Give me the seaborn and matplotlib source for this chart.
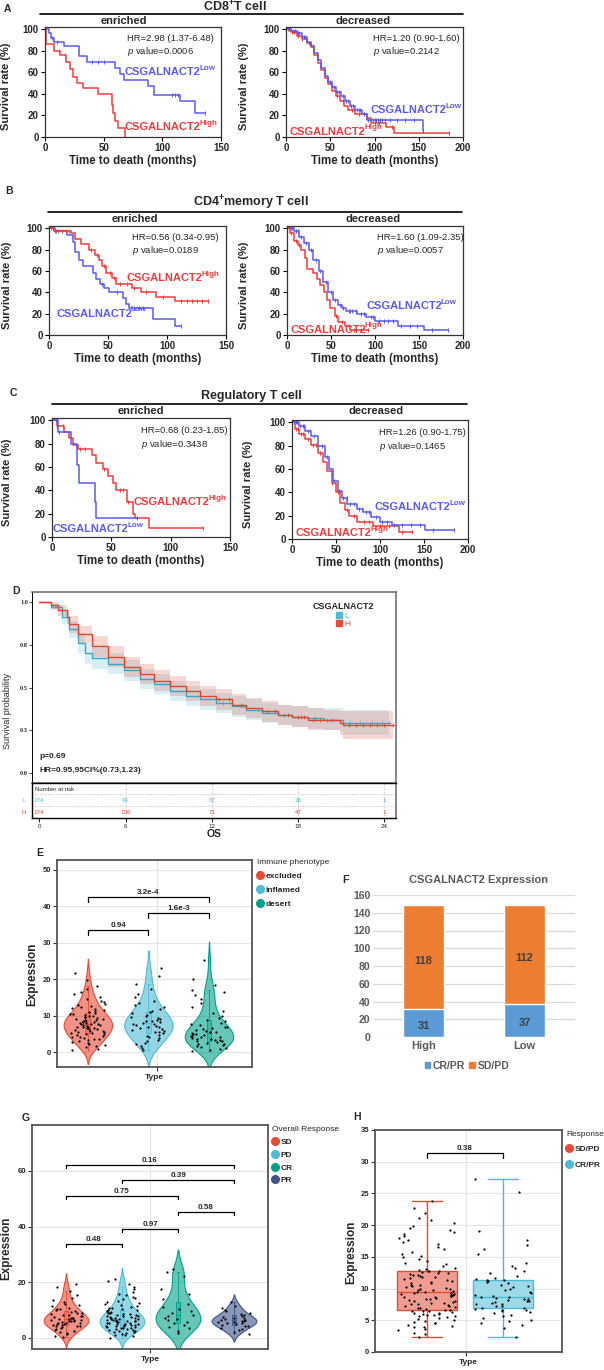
import numpy as np
import pandas as pd
import matplotlib
matplotlib.use("Agg")
import matplotlib.pyplot as plt
from matplotlib import font_manager
from matplotlib.colors import to_rgb, to_rgba
from matplotlib.lines import Line2D
from matplotlib.patches import Patch
import seaborn as sns

# ---------------- data ----------------
# A-C  Kaplan-Meier step points (months, survival %), end of follow-up, censor times
a_enr_low_t = [0, 3, 5, 8, 16, 29, 36, 60, 64, 67, 88, 93, 115, 128]
a_enr_low_s = [100, 96, 92, 88, 84, 75, 70, 64, 58, 53, 47, 39, 33, 22]
a_enr_low_c = [6, 10, 40, 45, 50, 108, 111, 113, 136]
a_enr_high_t = [0, 1, 8, 13, 18, 21, 24, 27, 32, 45, 57, 58, 60, 62, 68]
a_enr_high_s = [100, 86, 80, 76, 70, 63, 56, 50, 45, 40, 30, 22, 15, 8, 0]
a_enr_high_c = [12, 17]
a_dec_low_t = [0, 6, 12, 18, 24, 28, 32, 36, 40, 44, 48, 52, 57, 62, 67, 72, 78, 86, 91, 155]
a_dec_low_s = [100, 98, 96, 93, 88, 84, 78, 71, 64, 57, 51, 46, 42, 38, 33, 29, 25, 21, 16, 6]
a_dec_low_c = [3, 5, 8, 10, 13, 15, 20, 22, 30, 50, 54, 58, 60, 64, 68, 70, 74, 76, 80, 82, 84,
               88, 93, 96, 98, 100, 102, 104, 106, 108, 112, 118, 125, 135, 145, 155]
a_dec_high_t = [0, 6, 12, 18, 24, 28, 32, 36, 40, 44, 48, 52, 56, 61, 66, 70, 78, 91, 96, 113, 122]
a_dec_high_s = [100, 97, 94, 91, 87, 83, 76, 69, 62, 55, 49, 43, 38, 33, 29, 25, 21, 18, 13, 9, 4]
a_dec_high_c = [2, 4, 7, 9, 14, 18, 26, 58, 64, 75, 82, 88, 100, 105, 120, 184]

b_enr_high_t = [0, 4, 19, 22, 27, 34, 39, 42, 45, 48, 53, 57, 70, 78, 91, 107]
b_enr_high_s = [100, 97, 95, 90, 85, 80, 75, 70, 65, 58, 53, 48, 44, 40, 36, 32]
b_enr_high_c = [2, 5, 8, 11, 14, 17, 36, 41, 47, 52, 55, 60, 66, 72, 82, 97, 112, 117, 121, 125, 130, 135]
b_enr_low_t = [0, 5, 15, 20, 22, 25, 29, 37, 40, 43, 47, 51, 63, 65, 68, 88, 107]
b_enr_low_s = [100, 97, 94, 87, 78, 70, 65, 58, 52, 48, 44, 40, 35, 29, 25, 15, 8]
b_enr_low_c = [3, 6, 45, 58, 72, 76, 80, 112]
b_dec_high_t = [0, 3, 8, 12, 16, 20, 23, 30, 34, 38, 42, 45, 49, 54, 58, 66, 72]
b_dec_high_s = [100, 95, 88, 84, 80, 72, 62, 58, 52, 47, 40, 33, 25, 18, 12, 8, 5]
b_dec_high_c = [4, 10, 14, 56, 62, 70, 76, 84, 92]
b_dec_low_t = [0, 8, 14, 19, 25, 30, 36, 41, 47, 52, 58, 63, 67, 80, 90, 100, 126, 156]
b_dec_low_s = [100, 97, 92, 86, 80, 70, 60, 50, 40, 33, 28, 25, 22, 20, 17, 13, 8, 5]
b_dec_low_c = [2, 4, 6, 10, 12, 16, 22, 27, 33, 38, 44, 50, 55, 60, 64, 70, 72, 74, 78, 84, 88,
               95, 98, 104, 110, 115, 120, 130, 140, 148, 165, 183]

c_enr_low_t = [0, 5, 16, 21, 23, 36, 37]
c_enr_low_s = [100, 90, 80, 62, 46, 30, 16]
c_enr_low_c = [3, 6, 72]
c_enr_high_t = [0, 4, 10, 14, 18, 22, 34, 37, 43, 47, 51, 54, 63, 68, 70, 82]
c_enr_high_s = [100, 95, 90, 85, 79, 75, 70, 63, 58, 52, 46, 40, 30, 20, 16, 8]
c_enr_high_c = [4, 9, 20, 24, 28, 44, 57, 60, 64, 127]
c_dec_low_t = [0, 8, 15, 22, 30, 37, 42, 47, 52, 57, 63, 74, 81, 90, 100, 114, 151]
c_dec_low_s = [100, 97, 93, 88, 80, 70, 60, 50, 41, 35, 30, 26, 23, 19, 15, 12, 8]
c_dec_low_c = [2, 4, 6, 9, 12, 14, 18, 20, 25, 34, 40, 48, 53, 58, 62, 66, 70, 76, 80, 84, 88,
               95, 102, 108, 116, 125, 135, 145, 160, 184]
c_dec_high_t = [0, 3, 8, 15, 22, 30, 35, 40, 45, 50, 55, 60, 65, 74, 92, 122]
c_dec_high_s = [100, 94, 90, 86, 81, 74, 66, 58, 48, 40, 31, 25, 20, 15, 11, 6]
c_dec_high_c = [2, 5, 7, 10, 13, 18, 24, 27, 32, 46, 52, 62, 70, 82, 88, 100, 110, 125, 136]

hr_texts = {
    "A_enr": ("HR=2.98 (1.37-6.48)", "0.0006"), "A_dec": ("HR=1.20 (0.90-1.60)", "0.2142"),
    "B_enr": ("HR=0.56 (0.34-0.95)", "0.0189"), "B_dec": ("HR=1.60 (1.09-2.35)", "0.0057"),
    "C_enr": ("HR=0.68 (0.23-1.85)", "0.3438"), "C_dec": ("HR=1.26 (0.90-1.75)", "0.1465"),
}

# D  overall survival (months, probability) with 95% CI
d_low_t = [0, 0.8, 1.6, 2.1, 2.7, 3.2, 3.7, 4.8, 5.9, 7.0, 8.0, 9.1, 10.2, 11.2, 12.3, 13.4,
           14.4, 15.5, 16.6, 17.6, 18.7, 19.8, 20.9, 21.1]
d_low_s = [1.0, 0.97, 0.91, 0.84, 0.76, 0.70, 0.67, 0.64, 0.60, 0.55, 0.52, 0.48, 0.45, 0.43,
           0.41, 0.39, 0.37, 0.35, 0.34, 0.33, 0.32, 0.31, 0.31, 0.29]
d_low_lo = [1.0, 0.95, 0.87, 0.79, 0.70, 0.64, 0.61, 0.58, 0.54, 0.49, 0.46, 0.42, 0.39, 0.37,
            0.35, 0.33, 0.31, 0.29, 0.28, 0.27, 0.26, 0.25, 0.24, 0.22]
d_low_hi = [1.0, 0.99, 0.95, 0.89, 0.82, 0.76, 0.73, 0.70, 0.66, 0.61, 0.58, 0.54, 0.51, 0.49,
            0.47, 0.45, 0.43, 0.41, 0.40, 0.39, 0.38, 0.38, 0.38, 0.37]
d_low_c = [12.8, 14.2, 15.2, 17.0, 18.2, 19.2, 20.0, 20.5, 21.6, 22.3, 23.1, 23.8, 24.3]
d_high_t = [0, 0.8, 1.3, 1.9, 2.1, 2.7, 3.7, 4.8, 5.9, 7.0, 8.0, 9.1, 10.2, 11.2, 12.3, 13.4,
            14.4, 15.5, 16.6, 17.6, 18.7, 19.8, 20.9, 21.1]
d_high_s = [1.0, 0.98, 0.95, 0.91, 0.87, 0.81, 0.74, 0.68, 0.62, 0.58, 0.54, 0.51, 0.48, 0.45,
            0.43, 0.40, 0.38, 0.36, 0.34, 0.33, 0.31, 0.31, 0.29, 0.28]
d_high_lo = [1.0, 0.96, 0.92, 0.87, 0.82, 0.76, 0.68, 0.62, 0.56, 0.52, 0.48, 0.45, 0.42, 0.39,
             0.37, 0.34, 0.32, 0.30, 0.28, 0.27, 0.25, 0.25, 0.22, 0.20]
d_high_hi = [1.0, 1.0, 0.98, 0.95, 0.92, 0.86, 0.80, 0.74, 0.68, 0.64, 0.60, 0.57, 0.54, 0.51,
             0.49, 0.46, 0.44, 0.42, 0.40, 0.39, 0.38, 0.37, 0.36, 0.36]
d_high_c = [12.5, 13.2, 14.0, 15.8, 16.4, 17.3, 18.0, 18.4, 19.0, 19.5, 20.3, 21.5, 22.0,
            22.5, 23.0, 23.5, 24.0, 24.6]
risk_times = [0, 6, 12, 18, 24]
risk_low = [174, 99, 67, 38, 1]
risk_high = [174, 106, 71, 47, 1]

# E  expression by immune phenotype
e_groups = ["excluded", "inflamed", "desert"]
e_excluded = [0.5, 0.9, 1.3, 1.6, 2.0, 2.3, 2.5, 2.8, 3.0, 3.2, 3.5, 3.6, 3.9, 4.1, 4.2, 4.5,
              4.6, 4.9, 5.0, 5.2, 5.3, 5.5, 5.6, 5.8, 5.9, 6.1, 6.2, 6.4, 6.5, 6.6, 6.8, 6.9,
              7.0, 7.2, 7.3, 7.4, 7.6, 7.7, 7.8, 8.0, 8.1, 8.2, 8.3, 8.5, 8.6, 8.7, 8.9, 9.0,
              9.2, 9.3, 9.5, 9.6, 9.8, 10.0, 10.2, 10.4, 10.5, 10.7, 11.0, 11.2, 11.5, 11.7,
              12.0, 12.3, 12.6, 12.9, 13.3, 13.7, 14.1, 14.6, 15.2, 15.8, 16.5, 17.2, 18.0,
              19.8, 21.8]
e_inflamed = [0.6, 1.1, 1.6, 2.1, 2.6, 3.0, 3.4, 3.8, 4.2, 4.5, 4.8, 5.1, 5.4, 5.6, 5.9, 6.1,
              6.4, 6.6, 6.8, 7.0, 7.2, 7.4, 7.6, 7.8, 8.0, 8.2, 8.4, 8.6, 8.9, 9.1, 9.4, 9.7,
              10.0, 10.3, 10.7, 11.0, 11.4, 11.8, 12.3, 12.8, 13.4, 14.1, 15.0, 16.0, 17.2,
              18.8, 20.8, 23.2]
e_desert = [0.3, 0.6, 0.9, 1.2, 1.4, 1.7, 1.9, 2.1, 2.3, 2.5, 2.7, 2.9, 3.0, 3.2, 3.4, 3.5,
            3.7, 3.9, 4.0, 4.2, 4.4, 4.5, 4.7, 4.9, 5.0, 5.2, 5.4, 5.6, 5.8, 6.0, 6.2, 6.5,
            6.8, 7.0, 7.3, 7.6, 8.0, 8.4, 8.8, 9.3, 9.9, 10.6, 11.4, 12.3, 13.4, 14.6, 15.7,
            16.4, 16.9, 18.3, 20.1, 25.3]
e_tests = [(0, 1, "0.94"), (1, 2, "1.6e-3"), (0, 2, "3.2e-4")]

# F  response counts by expression group
f_groups = ["High", "Low"]
f_crpr = [31, 37]
f_sdpd = [118, 112]

# G  expression by overall response
g_groups = ["SD", "PD", "CR", "PR"]
g_sd = [0.2, 0.8, 1.3, 1.8, 2.2, 2.6, 3.0, 3.3, 3.6, 3.9, 4.1, 4.3, 4.4, 4.6, 4.8, 4.9, 5.1,
        5.3, 5.4, 5.5, 5.7, 5.9, 6.0, 6.1, 6.3, 6.5, 6.6, 6.7, 6.9, 7.1, 7.2, 7.3, 7.5, 7.7,
        7.9, 8.1, 8.3, 8.5, 8.8, 9.0, 9.3, 9.6, 9.9, 10.2, 10.5, 10.9, 11.3, 11.7, 12.2,
        12.8, 13.5, 14.3, 15.4, 16.8, 18.2, 19.4]
g_pd = [0.1, 0.5, 0.9, 1.2, 1.5, 1.8, 2.0, 2.2, 2.4, 2.6, 2.8, 3.0, 3.1, 3.3, 3.4, 3.6, 3.7,
        3.9, 4.0, 4.1, 4.3, 4.4, 4.5, 4.7, 4.8, 4.9, 5.0, 5.1, 5.3, 5.4, 5.5, 5.6, 5.7, 5.9,
        6.0, 6.1, 6.2, 6.3, 6.4, 6.6, 6.7, 6.8, 6.9, 7.0, 7.1, 7.3, 7.4, 7.5, 7.7, 7.8, 8.0,
        8.1, 8.3, 8.4, 8.6, 8.8, 9.0, 9.1, 9.3, 9.5, 9.7, 9.9, 10.1, 10.4, 10.6, 10.9, 11.2,
        11.5, 11.8, 12.1, 12.5, 12.9, 13.3, 13.8, 14.2, 14.7, 15.3, 15.9, 16.6, 17.4, 18.3,
        19.5, 20.6, 21.2]
g_cr = [1.8, 2.5, 3.4, 4.0, 4.6, 5.2, 5.8, 6.3, 6.8, 7.2, 7.7, 8.3, 8.9, 9.6, 10.3, 11.0,
        12.2, 13.8, 15.6, 17.5, 22.3, 23.5, 24.6]
g_pr = [1.5, 2.2, 2.8, 3.3, 3.7, 4.1, 4.4, 4.7, 5.0, 5.2, 5.4, 5.6, 5.8, 6.0, 6.2, 6.4, 6.6,
        6.8, 7.0, 7.3, 7.6, 7.9, 8.2, 8.6, 9.0, 9.5, 10.1, 10.8, 11.6, 12.8]
g_tests = [(0, 1, "0.48"), (1, 2, "0.97"), (2, 3, "0.58"), (0, 2, "0.75"), (1, 3, "0.39"), (0, 3, "0.16")]

# H  expression by response
h_groups = ["SD/PD", "CR/PR"]
h_sdpd = [2.3, 2.8, 3.0, 3.4, 3.7, 3.9, 4.0, 4.1, 4.3, 4.5, 4.6, 4.8, 4.9, 5.0, 5.2, 5.3, 5.5,
          5.6, 5.7, 5.8, 5.9, 6.0, 6.0, 6.1, 6.2, 6.3, 6.4, 6.5, 6.5, 6.6,
          6.7, 6.8, 6.9, 7.0, 7.1, 7.2, 7.3, 7.4, 7.5, 7.6, 7.7, 7.8, 7.9, 8.0, 8.1, 8.2, 8.3,
          8.4, 8.5, 8.6, 8.7, 8.8, 8.9, 9.0, 9.0, 9.1, 9.2, 9.3, 9.3, 9.4,
          9.5, 9.6, 9.7, 9.8, 9.9, 10.0, 10.1, 10.2, 10.4, 10.5, 10.6, 10.8, 10.9, 11.0, 11.2,
          11.3, 11.5, 11.6, 11.8, 11.9, 12.0, 12.1, 12.2, 12.3, 12.4, 12.5, 12.6, 12.7, 12.8, 12.8,
          12.9, 13.1, 13.3, 13.5, 13.8, 14.0, 14.3, 14.6, 14.9, 15.2, 15.5, 15.8, 16.2, 16.6,
          17.0, 17.3, 17.6, 18.0, 18.3, 18.6, 18.9, 19.2, 19.6, 19.9, 20.3, 20.8, 21.1, 21.9,
          22.7, 23.8]
h_crpr = [2.3, 3.8, 4.2, 4.6, 4.9, 5.1, 5.4, 5.6, 5.9, 6.1, 6.3, 6.5, 6.6, 6.7, 6.8,
          6.9, 7.0, 7.2, 7.3, 7.5, 7.6, 7.8, 7.9, 8.0, 8.1, 8.2, 8.3, 8.4, 8.5, 8.6,
          8.7, 8.8, 9.0, 9.3, 9.5, 9.7, 10.0, 10.2, 10.4, 10.6, 10.8, 11.0, 11.2, 11.3, 11.4,
          11.5, 11.7, 12.0, 12.4, 12.8, 13.2, 13.6, 14.0, 15.5, 16.3, 16.9, 17.6, 19.0, 25.2, 27.3]
h_tests = [(0, 1, "0.38")]

# ---------------- style ----------------
W, H = 604, 1370
sns.set_theme(style="white")
names = {f.name for f in font_manager.fontManager.ttflist}
SANS = "Liberation Sans" if "Liberation Sans" in names else "DejaVu Sans"
NARROW = "Liberation Sans Narrow" if "Liberation Sans Narrow" in names else SANS
SERIF = "Liberation Serif" if "Liberation Serif" in names else "DejaVu Serif"
plt.rcParams["font.family"] = [SANS, "DejaVu Sans"]
plt.rcParams.update({"mathtext.fontset": "custom", "mathtext.rm": SANS,
                     "mathtext.it": SANS + ":italic", "mathtext.bf": SANS + ":bold"})

KM_RED, KM_BLUE = "#F03B3B", "#5A5AEE"
NPG = {"red": "#E64B35", "blue": "#4DBBD5", "green": "#00A087", "navy": "#3C5488"}
XL_BLUE, XL_ORANGE = "#5B9BD5", "#ED7D31"

fig = plt.figure(figsize=(W / 100, H / 100), dpi=100)


def px_axes(l, t, r, b):
    return fig.add_axes([l / W, 1 - b / H, (r - l) / W, (b - t) / H])


def ftext(x, y, s, **kw):
    kw.setdefault("va", "center")
    return fig.text(x / W, 1 - y / H, s, **kw)


def fline(x0, x1, y, **kw):
    fig.add_artist(Line2D([x0 / W, x1 / W], [1 - y / H] * 2, transform=fig.transFigure, **kw))


def blend(c, a):
    r = np.array(to_rgb(c))
    return tuple(a * r + (1 - a))


def gene_label(ax, xy, sup, color):
    t = ax.text(*xy, "CSGALNACT2", color=color, fontsize=8, fontweight="bold", va="center")
    ax.annotate(sup, xy=(0.985, 0.88), xycoords=t, color=color, fontsize=5.8,
                fontweight="bold", ha="left", va="center")


def km_panel(box, curves, xmax, key, hr_x, low_xy, high_xy, ylab_x):
    ax = px_axes(*box)
    for t, s, end, cens, color in curves:
        tt = np.append(t, end)
        ss = np.append(s, s[-1])
        sns.lineplot(x=tt, y=ss, drawstyle="steps-post", color=color, lw=1.1,
                     estimator=None, ax=ax)
        idx = np.searchsorted(t, cens, side="right") - 1
        ax.plot(cens, np.asarray(s)[idx], ls="none", marker="|", ms=3.5, mew=0.7, color=color)
    ax.set_xlim(0, xmax)
    ax.set_ylim(0, 102)
    ax.set_xticks(np.arange(0, xmax + 1, 50))
    ax.set_yticks(np.arange(0, 101, 20))
    ax.tick_params(direction="out", length=3, width=0.8, pad=1.5, labelsize=7,
                   left=True, bottom=True, color="black")
    for lab in ax.get_xticklabels() + ax.get_yticklabels():
        lab.set_fontweight("bold")
    for sp in ax.spines.values():
        sp.set_color("#333333")
        sp.set_linewidth(0.9)
    ax.set_xlabel("Time to death (months)", fontsize=8.3, fontweight="bold", labelpad=1.5)
    ax.set_ylabel("Survival rate (%)", fontsize=8, fontweight="bold")
    ax.yaxis.set_label_coords((ylab_x - box[0]) / (box[2] - box[0]), 0.46)
    hr, pv = hr_texts[key]
    ax.text(hr_x, 91, hr, fontsize=6.8, family=NARROW, va="center")
    ax.text(hr_x, 79, r"$\mathit{p}$ value=" + pv, fontsize=6.8, family=NARROW, va="center")
    gene_label(ax, low_xy, "Low", KM_BLUE)
    gene_label(ax, high_xy, "High", KM_RED)
    return ax


def panel_head(letter, lxy, title, tx, ty, x0, x1, ly, enr_x, dec_x, ey):
    ftext(*lxy, letter, fontsize=7.5, fontweight="bold")
    ftext(tx, ty, title, fontsize=9, fontweight="bold", ha="center")
    fline(x0, x1, ly, color="black", lw=1.2)
    ftext(enr_x, ey, "enriched", fontsize=8, fontweight="bold", ha="center")
    ftext(dec_x, ey, "decreased", fontsize=8, fontweight="bold", ha="center")


# ---------------- A ----------------
panel_head("A", (4, 9), r"CD8$^{\mathbf{+}}$T cell", 235, 7, 40, 463, 13.5, 124, 363, 20.5)
km_panel((45, 27, 221, 137),
         [(a_enr_low_t, a_enr_low_s, 136, a_enr_low_c, KM_BLUE),
          (a_enr_high_t, a_enr_high_s, 68, a_enr_high_c, KM_RED)],
         150, "A_enr", 70, (68, 60), (68, 9), 11)
km_panel((286, 27, 463, 137),
         [(a_dec_high_t, a_dec_high_s, 184, a_dec_high_c, KM_RED),
          (a_dec_low_t, a_dec_low_s, 155, a_dec_low_c, KM_BLUE)],
         200, "A_dec", 98, (96, 25), (4, 5), 249)

# ---------------- B ----------------
panel_head("B", (5, 191), r"CD4$^{\mathbf{+}}$memory T cell", 251, 203, 48, 462, 211.5, 135, 373, 219)
km_panel((49, 226, 226, 335),
         [(b_enr_low_t, b_enr_low_s, 112, b_enr_low_c, KM_BLUE),
          (b_enr_high_t, b_enr_high_s, 135, b_enr_high_c, KM_RED)],
         150, "B_enr", 70, (6, 20), (66, 53), 12)
km_panel((287, 226, 463, 335),
         [(b_dec_low_t, b_dec_low_s, 183, b_dec_low_c, KM_BLUE),
          (b_dec_high_t, b_dec_high_s, 92, b_dec_high_c, KM_RED)],
         200, "B_dec", 102, (90, 27), (3.5, 5), 249)

# ---------------- C ----------------
panel_head("C", (10, 393), "Regulatory T cell", 251, 396, 52, 467, 404, 141, 376, 411.5)
km_panel((52, 418, 230, 537),
         [(c_enr_high_t, c_enr_high_s, 127, c_enr_high_c, KM_RED),
          (c_enr_low_t, c_enr_low_s, 72, c_enr_low_c, KM_BLUE)],
         150, "C_enr", 75, (0.7, 7), (68.5, 30), 12)
km_panel((292, 420, 468, 539),
         [(c_dec_high_t, c_dec_high_s, 136, c_dec_high_c, KM_RED),
          (c_dec_low_t, c_dec_low_s, 184, c_dec_low_c, KM_BLUE)],
         200, "C_dec", 98.5, (94, 27), (4.4, 5), 253)

# ---------------- D ----------------
ftext(12, 591, "D", fontsize=7.5, fontweight="bold")
axD = px_axes(32, 592, 396, 783)
d_curves = [(d_low_t, d_low_s, d_low_lo, d_low_hi, d_low_c, 24.3, NPG["blue"], "#3AA6C6"),
            (d_high_t, d_high_s, d_high_lo, d_high_hi, d_high_c, 24.6, NPG["red"], "#E0442C")]
for t, s, lo, hi, cens, end, band, line in d_curves:
    tt = np.append(t, end)
    axD.fill_between(tt, np.append(lo, lo[-1]), np.append(hi, hi[-1]), step="post",
                     color=band, alpha=0.22, lw=0)
    sns.lineplot(x=tt, y=np.append(s, s[-1]), drawstyle="steps-post", color=line, lw=1.0,
                 estimator=None, ax=axD)
    idx = np.searchsorted(t, cens, side="right") - 1
    axD.plot(cens, np.asarray(s)[idx], ls="none", marker="+", ms=3, mew=0.6, color=line)
axD.set_xlim(-0.5, 24.8)
axD.set_ylim(-0.058, 1.058)
axD.set_xticks([])
axD.set_yticks([0, 0.25, 0.5, 0.75, 1.0], labels=["0.0", "0.3", "0.5", "0.8", "1.0"])
axD.tick_params(axis="y", left=True, length=2, width=0.6, pad=1, labelsize=4.5)
for lab in axD.get_yticklabels():
    lab.set_family(SERIF)
    lab.set_fontweight("bold")
for sp in axD.spines.values():
    sp.set_color("#666666")
    sp.set_linewidth(1.1)
axD.spines["left"].set_color("black")
axD.spines["left"].set_linewidth(0.7)
axD.set_ylabel("")
ftext(8, 711, "Survival probability", fontsize=6.5, rotation=90, ha="center")
ftext(39, 756, "p=0.69", fontsize=6, fontweight="bold")
ftext(39, 771, "HR=0.95,95CI%(0.73,1.23)", fontsize=6, fontweight="bold")
axD.legend(handles=[Patch(color=NPG["blue"]), Patch(color=NPG["red"])], labels=["L", "H"],
           title="CSGALNACT2", loc="upper left", bbox_to_anchor=(305 / W, 1 - 595 / H),
           bbox_transform=fig.transFigure, frameon=False, fontsize=6,
           title_fontproperties={"size": 6.5, "weight": "bold"},
           handlelength=0.7, handleheight=0.7, handletextpad=0.3, labelspacing=0.05,
           labelcolor=[NPG["blue"], NPG["red"]])

axR = px_axes(32, 783, 396, 818)
axR.set_xlim(-0.5, 24.8)
axR.set_ylim(0, 35)
for x in risk_times[1:]:
    axR.axvline(x, color="#BBBBBB", ls=":", lw=0.7)
for y in (12, 24):
    axR.axhline(y, color="#BBBBBB", ls=":", lw=0.7)
for i, x in enumerate(risk_times):
    axR.text(x, 17, str(risk_low[i]), color=NPG["blue"], fontsize=4.5, ha="center", va="center")
    axR.text(x, 6, str(risk_high[i]), color=NPG["red"], fontsize=4.5, ha="center", va="center")
axR.text(-0.9, 17, "L", color=NPG["blue"], fontsize=4.5, ha="right", va="center")
axR.text(-0.9, 6, "H", color=NPG["red"], fontsize=4.5, ha="right", va="center")
axR.text(-0.3, 28.5, "Number at risk", fontsize=4.3, va="center")
axR.set_xticks(risk_times, labels=[str(v) for v in risk_times])
axR.set_yticks([])
axR.tick_params(axis="x", bottom=True, length=3, width=0.8, pad=1, labelsize=4.5)
for sp in ("left", "bottom", "top"):
    axR.spines[sp].set_color("black")
    axR.spines[sp].set_linewidth(1.0)
axR.spines["right"].set_color("#666666")
axR.spines["right"].set_linewidth(1.1)
axR.set_xlabel("OS", fontsize=7.5, fontweight="bold", labelpad=0)


# ---------------- E / G / H helpers ----------------
def gg_axes(ax, ylim, yticks, xlim, xtick, ylab_x, box):
    ax.set_xlim(*xlim)
    ax.set_ylim(*ylim)
    ax.set_yticks(yticks, labels=[str(v) for v in yticks])
    ax.set_xticks([xtick], labels=[""])
    ax.grid(True, color="#E4E4E4", lw=0.8)
    ax.set_axisbelow(True)
    for sp in ax.spines.values():
        sp.set_color("#555555")
        sp.set_linewidth(1.3)
    ax.tick_params(left=True, bottom=True, length=3, width=0.8, color="#333333",
                   labelsize=5.5, pad=1)
    for lab in ax.get_yticklabels():
        lab.set_family(NARROW)
        lab.set_fontweight("bold")
    ax.set_xlabel("Type", fontsize=6, fontweight="bold", family=NARROW, labelpad=1)
    ax.set_ylabel("Expression", fontsize=8.5, fontweight="bold")
    ax.yaxis.set_label_coords((ylab_x - box[0]) / (box[2] - box[0]), 0.45)


def brackets(ax, tests, heights, drop, fs=5.8):
    for (i, j, lab), y in zip(tests, heights):
        ax.plot([i, i, j, j], [y - drop, y, y, y - drop], color="black", lw=0.9)
        ax.text((i + j) / 2, y + drop * 0.25, lab, ha="center", va="bottom", fontsize=fs,
                family=NARROW, fontweight="bold")


def violins(ax, groups, values, colors, jitter):
    df = pd.DataFrame({"Type": np.repeat(groups, [len(v) for v in values]),
                       "Expression": np.concatenate(values)})
    sns.violinplot(data=df, x="Type", y="Expression", hue="Type", order=groups,
                   hue_order=groups, palette=colors, inner=None, density_norm="width",
                   width=0.8, linewidth=0.8, saturation=1, legend=False, ax=ax)
    for coll, c in zip(ax.collections, colors):
        coll.set_facecolor(to_rgba(c, 0.6))
        coll.set_edgecolor(c)
    for g, c in zip(groups, colors):
        sns.boxplot(data=df[df["Type"] == g], x="Type", y="Expression", order=groups,
                    width=0.08, color=blend(c, 0.75), linecolor=c, linewidth=0.6,
                    showfliers=False, saturation=1, ax=ax)
    sns.stripplot(data=df, x="Type", y="Expression", order=groups, color="black",
                  size=1.6, jitter=jitter, ax=ax)


def dot_legend(x, y, title, labels, colors, spacing):
    hs = [Line2D([], [], marker="o", ls="", color=c, ms=5.5) for c in colors]
    fig.legend(hs, labels, title=title, loc="upper left",
               bbox_to_anchor=(x / W, 1 - y / H), frameon=False,
               prop={"family": NARROW, "size": 6, "weight": "bold"},
               title_fontproperties={"family": NARROW, "size": 6},
               handlelength=0.8, handletextpad=0.2, labelspacing=spacing,
               alignment="left", borderaxespad=0, borderpad=0)


np.random.seed(7)

# ---------------- E ----------------
ftext(36, 853, "E", fontsize=7.5, fontweight="bold")
boxE = (57, 860, 252, 1067)
axE = px_axes(*boxE)
e_colors = [NPG["red"], NPG["blue"], NPG["green"]]
violins(axE, e_groups, [e_excluded, e_inflamed, e_desert], e_colors, 0.3)
brackets(axE, e_tests, [33.5, 38.2, 42.6], 1.4)
gg_axes(axE, (-4.1, 52.7), [0, 10, 20, 30, 40, 50], (-0.51, 2.71), 1.14, 38, boxE)
dot_legend(257, 859, "Immune phenotype", e_groups, e_colors, 0.75)

# ---------------- F ----------------
ftext(342, 880, "F", fontsize=7.5, fontweight="bold")
ftext(479, 880, "CSGALNACT2 Expression", fontsize=8, fontweight="bold", color="#595959", ha="center")
axF = px_axes(373, 895, 575, 1037)
f_total = np.add(f_crpr, f_sdpd)
sns.barplot(x=f_groups, y=f_total, color=XL_ORANGE, width=0.4, saturation=1, ax=axF)
sns.barplot(x=f_groups, y=f_crpr, color=XL_BLUE, width=0.4, saturation=1, ax=axF)
for i, (c, s) in enumerate(zip(f_crpr, f_sdpd)):
    axF.text(i, c / 2 - 3, str(c), ha="center", va="center", fontsize=8, fontweight="bold", color="#404040")
    axF.text(i, c + s / 2 - 4, str(s), ha="center", va="center", fontsize=8, fontweight="bold", color="#404040")
axF.set_xlim(-0.5, 1.5)
axF.set_ylim(0, 160)
axF.set_yticks(np.arange(0, 161, 20))
axF.yaxis.grid(True, color="#D9D9D9", lw=0.9)
axF.set_axisbelow(True)
sns.despine(ax=axF, left=True, bottom=True)
axF.tick_params(length=0, labelsize=7.5, labelcolor="#595959", pad=2)
for lab in axF.get_xticklabels() + axF.get_yticklabels():
    lab.set_fontweight("bold")
axF.tick_params(axis="x", labelsize=8, pad=3)
axF.set_xlabel("")
axF.set_ylabel("")
fig.legend([Patch(color=XL_BLUE), Patch(color=XL_ORANGE)], ["CR/PR", "SD/PD"], ncol=2,
           loc="center", bbox_to_anchor=(467 / W, 1 - 1066 / H), frameon=False,
           prop={"size": 7.5, "weight": "bold"}, labelcolor="#595959",
           handlelength=0.5, handleheight=0.5, handletextpad=0.3, columnspacing=0.4)

# ---------------- G ----------------
ftext(22, 1118, "G", fontsize=7.5, fontweight="bold")
boxG = (32, 1125, 268, 1349)
axG = px_axes(*boxG)
g_colors = [NPG["red"], NPG["blue"], NPG["green"], NPG["navy"]]
violins(axG, g_groups, [g_sd, g_pd, g_cr, g_pr], g_colors, 0.3)
brackets(axG, g_tests, [33.8, 39.3, 45.3, 51.1, 56.8, 62.2], 1.3)
gg_axes(axG, (-4, 76.5), [0, 20, 40, 60], (-0.607, 3.607), 1.5, 12, boxG)
dot_legend(272, 1126, "Overall Response", g_groups, g_colors, 0.6)

# ---------------- H ----------------
ftext(353, 1117, "H", fontsize=7.5, fontweight="bold")
boxH = (375, 1130, 562, 1352)
axH = px_axes(*boxH)
h_colors = [NPG["red"], NPG["blue"]]
dfH = pd.DataFrame({"Type": np.repeat(h_groups, [len(h_sdpd), len(h_crpr)]),
                    "Expression": np.concatenate([h_sdpd, h_crpr])})
for g, c in zip(h_groups, h_colors):
    sns.boxplot(data=dfH[dfH["Type"] == g], x="Type", y="Expression", order=h_groups,
                width=0.8, whis=(0, 100), color=blend(c, 0.55), linecolor=c, linewidth=1.0,
                showfliers=False, saturation=1, ax=axH)
sns.stripplot(data=dfH, x="Type", y="Expression", order=h_groups, color="black", size=1.6,
              jitter=0.38, ax=axH)
brackets(axH, h_tests, [31.3], 0.7)
gg_axes(axH, (0, 35), [0, 5, 10, 15, 20, 25, 30, 35], (-0.684, 1.776), 0.51, 357, boxH)
dot_legend(566, 1131, "Response", h_groups, h_colors, 0.9)

fig.savefig("out.png", dpi=100)
